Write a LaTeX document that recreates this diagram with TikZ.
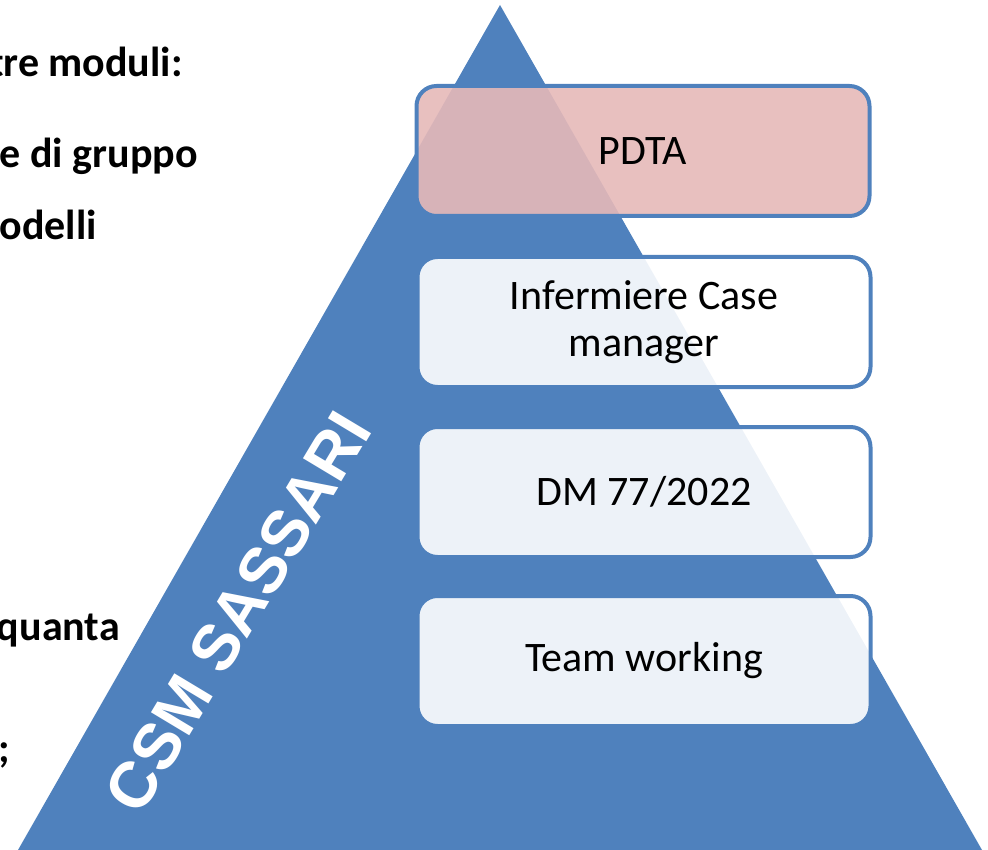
\documentclass[tikz,border=0pt]{standalone}
\usepackage{fontspec}
\setmainfont{Carlito}
\newfontfamily\arialfont{Liberation Sans}
\definecolor{triblue}{HTML}{4F81BD}
\definecolor{pdtapink}{HTML}{E6B9B8}
\tikzset{
  layer/.style={draw=triblue, line width=4pt, rounded corners=20pt,
    fill=white, fill opacity=0.9, text opacity=1,
    minimum width=453pt, minimum height=130pt, align=center,
    font=\fontsize{42}{47}\selectfont},
  sidetext/.style={anchor=base east, inner sep=0pt, font=\bfseries\fontsize{42}{47}\selectfont}
}
\begin{document}
\begin{tikzpicture}[x=1pt, y=-1pt]
    \useasboundingbox (0, 0) rectangle (988, 850);
    \clip (0, 0) rectangle (988, 850);
    \node[sidetext] (moduli) at (183, 77) {tre moduli:};
    \node[sidetext] (gruppo) at (198, 168) {e di gruppo};
    \node[sidetext] (modelli) at (97, 240) {odelli};
    \node[sidetext] (quanta) at (120, 640) {quanta};
    \node[sidetext] (semi) at (10, 762) {;};
    \fill[triblue] (500, 5) -- (982, 850) -- (18, 850) -- cycle;
    \node[layer, fill=pdtapink] (pdta) at (643, 151) {PDTA};
    \node[layer] (nurse) at (644, 322) {Infermiere Case\\manager};
    \node[layer] (dm) at (644, 492) {DM 77/2022};
    \node[layer] (team) at (644, 661) {Team working};
    \node[rotate=59, text=white, font=\arialfont\bfseries\fontsize{65}{65}\selectfont] (csm) at (238, 612) {CSM SASSARI};
  \end{tikzpicture}
\end{document}
